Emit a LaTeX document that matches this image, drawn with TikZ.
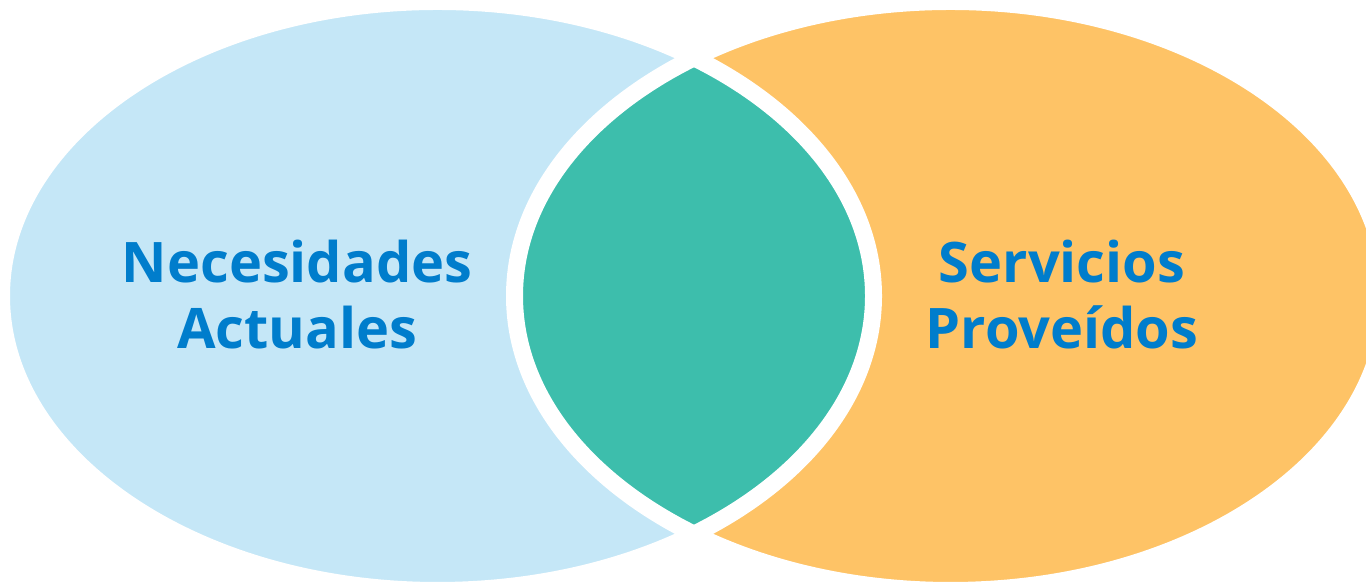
\documentclass[tikz,border=0pt]{standalone}
\usepackage{fontspec}
\newfontfamily\vennfont{Open Sans}
\definecolor{azulclaro}{RGB}{197,231,247}
\definecolor{naranja}{RGB}{254,195,102}
\definecolor{verdeazul}{RGB}{61,190,172}
\definecolor{azultexto}{RGB}{0,125,204}
\tikzset{
    etiqueta/.style={text=azultexto, align=center, font=\vennfont\bfseries\fontsize{15.9}{18.8}\selectfont},
    borde/.style={draw=white, line width=0.17cm}
}
\begin{document}
\begin{tikzpicture}
        \useasboundingbox (0,0) rectangle (13.66,5.84);

        % Conjuntos
        \fill[azulclaro] (4.375,2.88) ellipse (4.36 and 2.945);
        \fill[naranja] (9.505,2.88) ellipse (4.36 and 2.945);

        % Interseccion
        \begin{scope}
            \clip (4.375,2.88) ellipse (4.36 and 2.945);
            \fill[verdeazul] (9.505,2.88) ellipse (4.36 and 2.945);
        \end{scope}

        \draw[borde] (4.375,2.88) ellipse (4.36 and 2.945);
        \draw[borde] (9.505,2.88) ellipse (4.36 and 2.945);

        % Labels
        \node[etiqueta] (necesidades) at (2.97,2.89) {Necesidades\\Actuales};
        \node[etiqueta] (servicios) at (10.62,2.89) {Servicios\\Proveídos};
    \end{tikzpicture}
\end{document}
